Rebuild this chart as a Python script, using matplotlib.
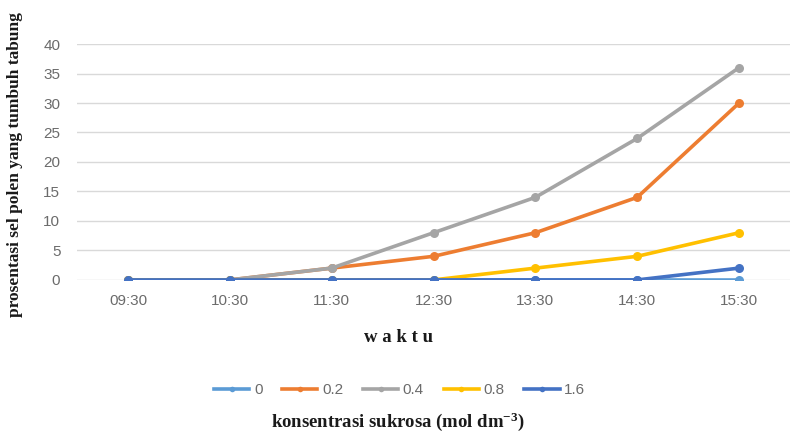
import matplotlib
matplotlib.use("Agg")
import matplotlib.pyplot as plt
from matplotlib.lines import Line2D

plt.rcParams["mathtext.fontset"] = "custom"
plt.rcParams["mathtext.rm"] = "Liberation Serif:bold"
plt.rcParams["mathtext.bf"] = "Liberation Serif:bold"
plt.rcParams["mathtext.it"] = "Liberation Serif:bold"

times = ["09:30", "10:30", "11:30", "12:30", "13:30", "14:30", "15:30"]
series_names = ["0", "0.2", "0.4", "0.8", "1.6"]
s0 = [0, 0, 0, 0, 0, 0, 0]
s02 = [0, 0, 2, 4, 8, 14, 30]
s04 = [0, 0, 2, 8, 14, 24, 36]
s08 = [0, 0, 0, 0, 2, 4, 8]
s16 = [0, 0, 0, 0, 0, 0, 2]
yticks = [0, 5, 10, 15, 20, 25, 30, 35, 40]

values = [s0, s02, s04, s08, s16]
colors = ["#5B9BD5", "#ED7D31", "#A5A5A5", "#FFC000", "#4472C4"]

fig = plt.figure(figsize=(7.9, 4.36), dpi=100)
ax = fig.add_axes([0.0975, 0.358, 0.9025, 0.541])

x = list(range(len(times)))
order = [2, 1, 3, 0, 4]
for i in order:
    ax.plot(x, values[i], color=colors[i], lw=2.6, marker="o", ms=6.5,
            markeredgewidth=0, solid_capstyle="round", zorder=3 + i * 0.1)

ax.set_xlim(-0.5, len(times) - 0.5)
ax.set_ylim(0, 40)
ax.set_yticks(yticks)
ax.set_xticks(x)
ax.set_xticklabels(times)
ax.grid(axis="y", color="#D9D9D9", lw=1)
ax.set_axisbelow(True)
for sp in ax.spines.values():
    sp.set_visible(False)
ax.tick_params(length=0, labelsize=11, colors="#6b6b6b")
for lab in ax.get_xticklabels() + ax.get_yticklabels():
    lab.set_fontfamily("Liberation Sans")
ax.tick_params(axis="x", pad=10)
ax.tick_params(axis="y", pad=12)

fig.text(0.019, 0.622, "prosentasi sel polen yang tumbuh tabung", rotation=90,
         ha="center", va="center", fontfamily="Liberation Serif",
         fontweight="bold", fontsize=12.5, color="#1a1a1a")

fig.text(0.504, 0.227, "w a k t u", ha="center", va="center",
         fontfamily="Liberation Serif", fontweight="bold", fontsize=13.5,
         color="#1a1a1a")

handles = [Line2D([0], [0], color=c, lw=2.6, marker="o", ms=4,
                  markeredgewidth=0) for c in colors]
leg = fig.legend(handles, series_names, loc="center", bbox_to_anchor=(0.506, 0.105),
                 ncol=5, frameon=False, handlelength=2.3, handletextpad=0.3,
                 columnspacing=1.3, prop={"family": "Liberation Sans", "size": 11})
for t in leg.get_texts():
    t.set_color("#6b6b6b")

fig.text(0.504, 0.032, "konsentrasi sukrosa (mol dm$\\mathbf{^{-3}}$)", ha="center",
         va="center", fontfamily="Liberation Serif", fontweight="bold",
         fontsize=13.5, color="#1a1a1a")

fig.savefig("out.png", dpi=100)
